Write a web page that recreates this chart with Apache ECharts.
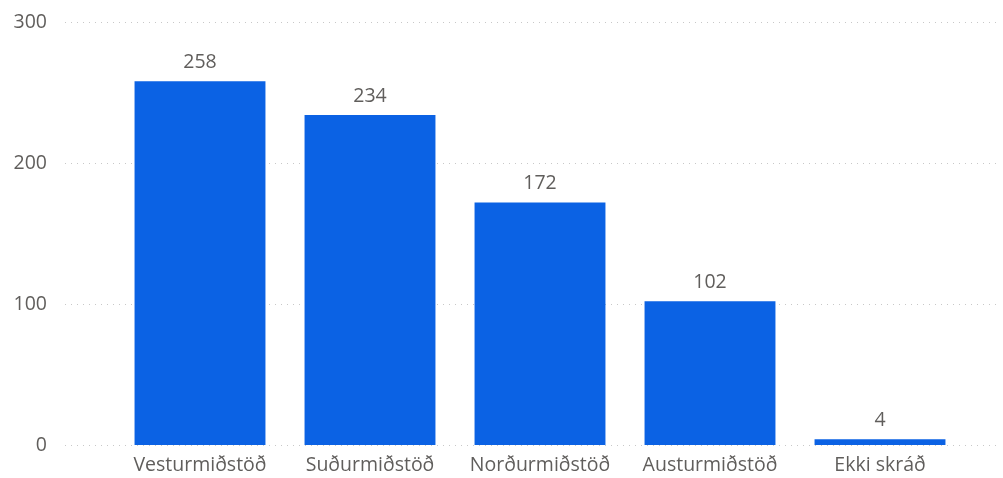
<!DOCTYPE html>
<html><head><meta charset="utf-8">
<script src="https://cdn.jsdelivr.net/npm/echarts@6/dist/echarts.min.js"></script>
<style>html,body{margin:0;padding:0;background:#fff}#c{width:1003px;height:478px}</style>
</head><body><div id="c"></div>
<script>
const categories = ['Vesturmiðstöð', 'Suðurmiðstöð', 'Norðurmiðstöð', 'Austurmiðstöð', 'Ekki skráð'];
const values = [258, 234, 172, 102, 4];
const yTicks = [0, 100, 200, 300];

const font = 'Open Sans, Noto Sans, sans-serif';
const chart = echarts.init(document.getElementById('c'));
chart.setOption({
  animation: false,
  grid: [
    {left: 65, right: 3, top: 22, bottom: 33},
    {left: 115, right: 38, top: 22, bottom: 33}
  ],
  xAxis: [
    {gridIndex: 0, type: 'value', min: 0, max: 1, show: false},
    {gridIndex: 1, type: 'category', data: categories,
     axisLine: {show: false}, axisTick: {show: false},
     axisLabel: {interval: 0, color: '#605E5C', fontSize: 19.5, fontFamily: font, margin: 10}}
  ],
  yAxis: [
    {gridIndex: 0, type: 'value', min: yTicks[0], max: yTicks[yTicks.length-1], interval: 100,
     axisLine: {show: false}, axisTick: {show: false},
     axisLabel: {color: '#605E5C', fontSize: 19.5, fontFamily: font, margin: 18},
     splitLine: {show: true, lineStyle: {color: '#C8C8C8', type: [1, 5], width: 1}}},
    {gridIndex: 1, type: 'value', min: yTicks[0], max: yTicks[yTicks.length-1], interval: 100, show: false,
     splitLine: {show: false}}
  ],
  series: [{
    type: 'bar', xAxisIndex: 1, yAxisIndex: 1, data: values,
    barCategoryGap: '23%',
    itemStyle: {color: '#0B62E4'},
    label: {show: true, position: 'top', distance: 9, color: '#605E5C', fontSize: 19.5, fontFamily: font}
  }]
});
</script></body></html>
